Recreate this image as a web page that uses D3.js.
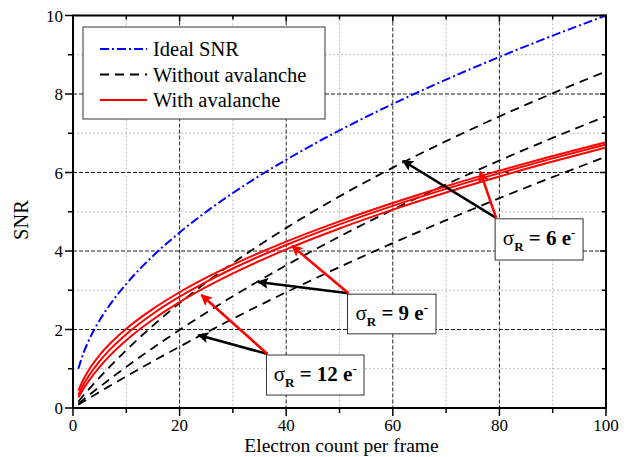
<!DOCTYPE html>
<html lang="en">
<head>
<meta charset="UTF-8">
<title>SNR vs electron count</title>
<script src="https://cdn.jsdelivr.net/npm/d3@7"></script>
<style>
  body { margin: 0; background: #fff; }
  svg { display: block; }
  svg text { font-family: "Liberation Serif", "DejaVu Serif", serif; }
</style>
</head>
<body>
<svg id="chart" width="629" height="457"></svg>
<script>
const counts = [1, 2, 3, 5, 7, 10, 15, 20, 25, 30, 40, 50, 60, 70, 80, 90, 100];

const idealSNR = [1, 1.414, 1.732, 2.236, 2.646, 3.162, 3.873, 4.472, 5, 5.477, 6.325, 7.071, 7.746, 8.367, 8.944, 9.487, 10];

// without avalanche, read noise 6 / 9 / 12 e-
const noAval6 = [0.164, 0.324, 0.48, 0.781, 1.067, 1.474, 2.1, 2.673, 3.201, 3.693, 4.588, 5.392, 6.124, 6.799, 7.428, 8.018, 8.575];
const noAval9 = [0.11, 0.22, 0.327, 0.539, 0.746, 1.048, 1.531, 1.99, 2.428, 2.847, 3.636, 4.368, 5.053, 5.697, 6.305, 6.882, 7.433];
const noAval12 = [0.083, 0.166, 0.247, 0.41, 0.57, 0.806, 1.19, 1.562, 1.923, 2.274, 2.949, 3.59, 4.201, 4.785, 5.345, 5.883, 6.402];

// with avalanche
const aval6 = [0.441, 0.74, 0.976, 1.348, 1.648, 2.02, 2.526, 2.949, 3.319, 3.651, 4.24, 4.756, 5.222, 5.65, 6.047, 6.42, 6.773];
const aval9 = [0.335, 0.602, 0.826, 1.195, 1.499, 1.881, 2.402, 2.836, 3.214, 3.554, 4.153, 4.678, 5.15, 5.582, 5.984, 6.36, 6.715];
const aval12 = [0.266, 0.495, 0.698, 1.048, 1.346, 1.728, 2.255, 2.697, 3.083, 3.43, 4.041, 4.574, 5.053, 5.491, 5.898, 6.278, 6.637];

const xTicks = [0, 20, 40, 60, 80, 100];
const yTicks = [0, 2, 4, 6, 8, 10];
const legendLabels = ["Ideal SNR", "Without avalanche", "With avalanche"];

// annotation boxes: label value, box corners (data units), arrow tips
const notes = [
  { sigma: "6", box: [79.2, 4.82, 95.7, 3.77], blackTip: [61.9, 6.3], redTip: [76.4, 6.02] },
  { sigma: "9", box: [51.5, 2.9, 68.1, 1.89], blackTip: [34.7, 3.21], redTip: [41.1, 4.13] },
  { sigma: "12", box: [36.3, 1.35, 54.6, 0.33], blackTip: [23.5, 1.86], redTip: [24.1, 2.88] }
];

const serif = "'Liberation Serif', 'DejaVu Serif', serif";
const svg = d3.select("#chart").attr("font-family", serif);
const plotL = 73, plotR = 606, plotT = 15.5, plotB = 408;

const x = d3.scaleLinear().domain([0, 100]).range([plotL, plotR]);
const y = d3.scaleLinear().domain([0, 10]).range([plotB, plotT]);

// grid
const grid = svg.append("g");
d3.range(10, 100, 20).forEach(v => {
  grid.append("line").attr("x1", x(v)).attr("x2", x(v)).attr("y1", plotT).attr("y2", plotB)
    .attr("stroke", "#bbb").attr("stroke-width", 1).attr("stroke-dasharray", "2,2");
});
d3.range(1, 10, 2).forEach(v => {
  grid.append("line").attr("x1", plotL).attr("x2", plotR).attr("y1", y(v)).attr("y2", y(v))
    .attr("stroke", "#bbb").attr("stroke-width", 1).attr("stroke-dasharray", "2,2");
});
xTicks.slice(1, -1).forEach(v => {
  grid.append("line").attr("x1", x(v)).attr("x2", x(v)).attr("y1", plotT).attr("y2", plotB)
    .attr("stroke", "#222").attr("stroke-width", 1).attr("stroke-dasharray", "4,2");
});
yTicks.slice(1, -1).forEach(v => {
  grid.append("line").attr("x1", plotL).attr("x2", plotR).attr("y1", y(v)).attr("y2", y(v))
    .attr("stroke", "#222").attr("stroke-width", 1).attr("stroke-dasharray", "4,2");
});

// curves
const line = vals => d3.line().x((d, i) => x(counts[i])).y(d => y(d)).curve(d3.curveMonotoneX)(vals);

svg.append("path").attr("d", line(idealSNR)).attr("fill", "none")
  .attr("stroke", "#0000ff").attr("stroke-width", 2).attr("stroke-dasharray", "9,3,2,3");

[noAval6, noAval9, noAval12].forEach(s => {
  svg.append("path").attr("d", line(s)).attr("fill", "none")
    .attr("stroke", "#000").attr("stroke-width", 1.8).attr("stroke-dasharray", "9,6");
});
[aval6, aval9, aval12].forEach(s => {
  svg.append("path").attr("d", line(s)).attr("fill", "none")
    .attr("stroke", "#ff0000").attr("stroke-width", 2);
});

// arrow heads
const defs = svg.append("defs");
[["blackHead", "#000"], ["redHead", "#ff0000"]].forEach(([id, c]) => {
  defs.append("marker").attr("id", id).attr("viewBox", "0 0 10 10")
    .attr("refX", 9).attr("refY", 5).attr("markerWidth", 5).attr("markerHeight", 4.5)
    .attr("orient", "auto").attr("markerUnits", "strokeWidth")
    .append("path").attr("d", "M0,0 L10,5 L0,10 L2,5 Z").attr("fill", c);
});

// annotations
notes.forEach(n => {
  const [bx0, by0, bx1, by1] = n.box;
  const sx = x(bx0) + 1, sy = y(by0) - 1;
  svg.append("line").attr("x1", sx).attr("y1", sy).attr("x2", x(n.blackTip[0])).attr("y2", y(n.blackTip[1]))
    .attr("stroke", "#000").attr("stroke-width", 2.5).attr("marker-end", "url(#blackHead)");
  svg.append("line").attr("x1", sx).attr("y1", sy).attr("x2", x(n.redTip[0])).attr("y2", y(n.redTip[1]))
    .attr("stroke", "#ff0000").attr("stroke-width", 2.5).attr("marker-end", "url(#redHead)");

  svg.append("rect").attr("x", x(bx0)).attr("y", y(by0))
    .attr("width", x(bx1) - x(bx0)).attr("height", y(by1) - y(by0))
    .attr("fill", "#fff").attr("stroke", "#333").attr("stroke-width", 1);

  const t = svg.append("text").attr("x", (x(bx0) + x(bx1)) / 2).attr("y", (y(by0) + y(by1)) / 2 + 6)
    .attr("text-anchor", "middle").attr("font-size", 21).attr("font-weight", "bold");
  t.append("tspan").attr("font-weight", "normal").text("σ");
  t.append("tspan").attr("font-size", 13).attr("dy", 6).text("R");
  t.append("tspan").attr("dy", -6).text(" = " + n.sigma + " e");
  t.append("tspan").attr("font-size", 13).attr("dy", -8).text("-");
});

// legend
const lg = svg.append("g");
lg.append("rect").attr("x", 83).attr("y", 27).attr("width", 242).attr("height", 92)
  .attr("fill", "#fff").attr("stroke", "#333").attr("stroke-width", 1);
const legendStyles = [
  { color: "#0000ff", dash: "9,3,2,3", w: 2 },
  { color: "#000", dash: "9,6", w: 1.8 },
  { color: "#ff0000", dash: null, w: 2 }
];
legendLabels.forEach((lab, i) => {
  const ly = 49 + i * 25.5;
  lg.append("line").attr("x1", 100).attr("x2", 147).attr("y1", ly).attr("y2", ly)
    .attr("stroke", legendStyles[i].color).attr("stroke-width", legendStyles[i].w)
    .attr("stroke-dasharray", legendStyles[i].dash);
  lg.append("text").attr("x", 153).attr("y", ly + 7).attr("font-size", 20.5).text(lab);
});

// frame and ticks
const frame = svg.append("g");
frame.append("rect").attr("x", plotL).attr("y", plotT).attr("width", plotR - plotL).attr("height", plotB - plotT)
  .attr("fill", "none").attr("stroke", "#000").attr("stroke-width", 2);

d3.range(0, 101, 10).forEach(v => {
  const major = v % 20 === 0;
  frame.append("line").attr("x1", x(v)).attr("x2", x(v)).attr("y1", plotB).attr("y2", plotB + (major ? 8 : 5))
    .attr("stroke", "#000").attr("stroke-width", 1.5);
  frame.append("line").attr("x1", x(v)).attr("x2", x(v)).attr("y1", plotT).attr("y2", plotT + (major ? 6 : 4))
    .attr("stroke", "#000").attr("stroke-width", 1.5);
});
d3.range(0, 11, 1).forEach(v => {
  const major = v % 2 === 0;
  frame.append("line").attr("x1", plotL).attr("x2", plotL - (major ? 8 : 5)).attr("y1", y(v)).attr("y2", y(v))
    .attr("stroke", "#000").attr("stroke-width", 1.5);
  frame.append("line").attr("x1", plotR).attr("x2", plotR - (major ? 6 : 4)).attr("y1", y(v)).attr("y2", y(v))
    .attr("stroke", "#000").attr("stroke-width", 1.5);
});

xTicks.forEach(v => {
  svg.append("text").attr("x", x(v)).attr("y", 431).attr("text-anchor", "middle")
    .attr("font-size", 17).text(v);
});
yTicks.forEach(v => {
  svg.append("text").attr("x", 63).attr("y", y(v) + 6).attr("text-anchor", "end")
    .attr("font-size", 17).text(v);
});

svg.append("text").attr("x", (plotL + plotR) / 2 + 2).attr("y", 452).attr("text-anchor", "middle")
  .attr("font-size", 19.5).text("Electron count per frame");
svg.append("text").attr("transform", "translate(28,220) rotate(-90)").attr("text-anchor", "middle")
  .attr("font-size", 20.5).text("SNR");
</script>
</body>
</html>
